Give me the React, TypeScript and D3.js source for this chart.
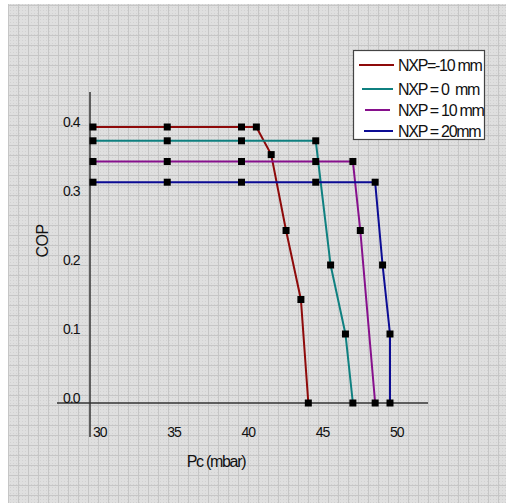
import React from "react";
import * as d3 from "d3";

const seriesNames = ["NXP=-10 mm", "NXP = 0  mm", "NXP = 10 mm", "NXP = 20mm"];
const seriesColors = ["#8e0a0a", "#0f8080", "#86108c", "#0c0c94"];

const redX = [30, 35, 40, 41, 42, 43, 44, 44.5];
const redY = [0.4, 0.4, 0.4, 0.4, 0.36, 0.25, 0.15, 0.0];
const tealX = [30, 35, 40, 45, 46, 47, 47.5];
const tealY = [0.38, 0.38, 0.38, 0.38, 0.2, 0.1, 0.0];
const purpleX = [30, 35, 40, 45, 47.5, 48, 49];
const purpleY = [0.35, 0.35, 0.35, 0.35, 0.35, 0.25, 0.0];
const blueX = [30, 35, 40, 45, 49, 49.5, 50, 50];
const blueY = [0.32, 0.32, 0.32, 0.32, 0.32, 0.2, 0.1, 0.0];

const xTicks = [30, 35, 40, 45, 50];
const yTicks = [0.0, 0.1, 0.2, 0.3, 0.4];

const W = 506;
const H = 503;

export default function App() {
  const x = d3.scaleLinear().domain([30, 50]).range([93, 390]);
  const y = d3.scaleLinear().domain([0, 0.4]).range([403, 127]);

  const series = [
    { xs: redX, ys: redY },
    { xs: tealX, ys: tealY },
    { xs: purpleX, ys: purpleY },
    { xs: blueX, ys: blueY },
  ].map((s, i) => ({
    name: seriesNames[i],
    color: seriesColors[i],
    pts: s.xs.map((v, j) => [v, s.ys[j]] as [number, number]),
  }));

  const line = d3
    .line<[number, number]>()
    .x((d) => x(d[0]))
    .y((d) => y(d[1]));

  const gridV: number[] = [];
  for (let gx = 8; gx <= W; gx += 10) gridV.push(gx);
  const gridH: number[] = [];
  for (let gy = 5; gy <= H; gy += 10) gridH.push(gy);

  const font = "'Liberation Sans', Arial, sans-serif";
  const legendRows = [65, 89, 110, 131];
  const legendLine = [
    [359, 394],
    [362, 393],
    [365, 390],
    [364, 393],
  ];

  return (
    <svg
      width={W}
      height={H}
      style={{ position: "absolute", left: 0, top: 0 }}
      fontFamily={font}
    >
      <defs>
        <pattern id="dots" width="3" height="3" patternUnits="userSpaceOnUse">
          <rect width="3" height="3" fill="#dfdfdf" />
          <rect x="1" y="1" width="1" height="1" fill="#d2d2d2" />
        </pattern>
      </defs>
      <rect x={0} y={0} width={W} height={H} fill="#ffffff" />
      <rect x={8} y={4} width={W - 8} height={H - 4} fill="url(#dots)" />
      <g stroke="#c6c6c6" strokeWidth={1}>
        {gridV.map((gx) => (
          <line key={"v" + gx} x1={gx + 0.5} x2={gx + 0.5} y1={4} y2={H} />
        ))}
        {gridH.map((gy) => (
          <line key={"h" + gy} x1={8} x2={W} y1={gy + 0.5} y2={gy + 0.5} />
        ))}
      </g>

      {/* axes */}
      <line x1={90} x2={90} y1={92} y2={437} stroke="#333" strokeWidth={1.5} />
      <line x1={57} x2={428} y1={y(0)} y2={y(0)} stroke="#333" strokeWidth={1.5} />

      {/* tick labels */}
      <g fontSize={14} fill="#111" letterSpacing={-1}>
        {xTicks.map((t) => (
          <text key={"x" + t} x={x(t)} y={432} dominantBaseline="central">
            {t}
          </text>
        ))}
        {yTicks.map((t) => (
          <text key={"y" + t} x={63} y={y(t) - 5} dominantBaseline="central">
            {t.toFixed(1)}
          </text>
        ))}
      </g>

      {/* axis titles */}
      <text
        x={216}
        y={461}
        fontSize={16}
        letterSpacing={-1.3}
        textAnchor="middle"
        dominantBaseline="central"
        fill="#111"
      >
        Pc (mbar)
      </text>
      <text
        transform="translate(42,241) rotate(-90)"
        fontSize={16}
        letterSpacing={-0.5}
        textAnchor="middle"
        dominantBaseline="central"
        fill="#111"
      >
        COP
      </text>

      {/* series */}
      {series.map((s) => (
        <path
          key={s.name}
          d={line(s.pts) || ""}
          fill="none"
          stroke={s.color}
          strokeWidth={2}
        />
      ))}
      {series.map((s) =>
        s.pts.map((p, j) => (
          <rect
            key={s.name + j}
            x={x(p[0]) - 3.5}
            y={y(p[1]) - 3.5}
            width={7}
            height={7}
            fill="#000"
          />
        ))
      )}

      {/* legend */}
      <rect x={353.5} y={50.5} width={131} height={89} fill="#ffffff" stroke="#444" strokeWidth={1.2} />
      {series.map((s, i) => (
        <g key={"lg" + i}>
          <line
            x1={legendLine[i][0]}
            x2={legendLine[i][1]}
            y1={legendRows[i]}
            y2={legendRows[i]}
            stroke={s.color}
            strokeWidth={2}
          />
          <text
            x={398}
            y={legendRows[i]}
            fontSize={16}
            letterSpacing={-1.3}
            dominantBaseline="central"
            fill="#111"
            style={{ whiteSpace: "pre" }}
          >
            {s.name}
          </text>
        </g>
      ))}
    </svg>
  );
}
